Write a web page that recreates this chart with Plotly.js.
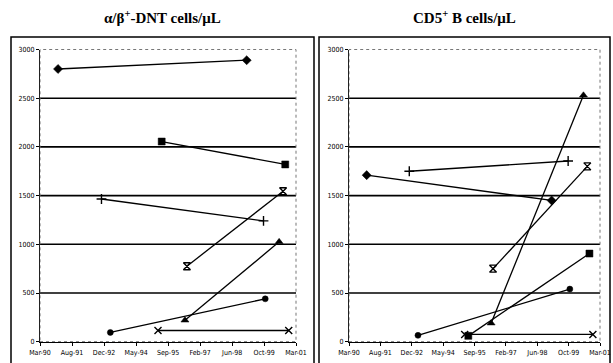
<!DOCTYPE html>
<html>
<head>
<meta charset="utf-8">
<script src="https://cdn.plot.ly/plotly-3.0.1.min.js"></script>
<style>html,body{margin:0;padding:0;background:#fff;}#chart{width:613px;height:363px;}</style>
</head>
<body>
<div id="chart"></div>
<script>
// Patients (marker style per patient) and the two sampling dates
const patientSymbols = ['diamond', 'square', 'cross-thin', 'hourglass-open', 'triangle-up', 'circle', 'x-thin'];
const startDates = ['1990-12-09', '1995-05-24', '1992-10-21', '1996-06-23', '1996-05-23', '1993-03-09', '1995-03-27'];
const endDates   = ['1999-01-17', '2000-09-13', '1999-10-08', '2000-08-10', '2000-06-09', '1999-11-04', '2000-11-07'];

// alpha/beta+ DNT cells/uL : first and second value per patient
const dntStart = [2800, 2055, 1465, 775, 220, 95, 115];
const dntEnd   = [2890, 1820, 1240, 1545, 1025, 440, 115];

// CD5+ B cells/uL : first and second value per patient
const cd5Start = [1710, 60, 1750, 750, 190, 65, 75];
const cd5End   = [1450, 905, 1855, 1800, 2530, 540, 75];

// Axis ticks
const xTickLabels = ['Mar-90', 'Aug-91', 'Dec-92', 'May-94', 'Sep-95', 'Feb-97', 'Jun-98', 'Oct-99', 'Mar-01'];
const xTickDates  = ['1990-03-01', '1991-07-17', '1992-12-01', '1994-04-17', '1995-09-01', '1997-01-16', '1998-06-02', '1999-10-17', '2001-03-01'];
const yTicks = [0, 500, 1000, 1500, 2000, 2500, 3000];
const xRange = ['1990-03-01', '2001-03-01'];

const W = 613, H = 363;
const px = v => v / W;
const py = v => 1 - v / H;

function markerFor(sym) {
  const open = (sym === 'cross-thin' || sym === 'hourglass-open' || sym === 'x-thin');
  return {
    symbol: sym,
    size: open ? 7 : (sym === 'circle' ? 6 : 7),
    color: '#000',
    line: {color: '#000', width: open ? 1.4 : 0.5}
  };
}

const traces = [];
function addPanel(starts, ends, xa, ya) {
  for (let i = 0; i < patientSymbols.length; i++) {
    traces.push({
      type: 'scatter', mode: 'lines+markers',
      x: [startDates[i], endDates[i]],
      y: [starts[i], ends[i]],
      xaxis: xa, yaxis: ya,
      line: {color: '#000', width: 1.3},
      marker: markerFor(patientSymbols[i]),
      showlegend: false, hoverinfo: 'skip'
    });
  }
}
addPanel(dntStart, dntEnd, 'x', 'y');
addPanel(cd5Start, cd5End, 'x2', 'y2');

const tickFont = {family: 'Liberation Sans Narrow, DejaVu Sans Condensed, Arial Narrow, sans-serif', size: 7, color: '#000'};

function xAxis(domain, anchor) {
  return {
    type: 'date', domain: domain, anchor: anchor, range: xRange,
    tickmode: 'array', tickvals: xTickDates, ticktext: xTickLabels,
    ticks: 'outside', ticklen: 3, tickcolor: '#000', tickwidth: 1,
    showgrid: false, zeroline: false,
    showline: true, linecolor: '#000', linewidth: 1.4,
    tickfont: tickFont, fixedrange: true
  };
}
function yAxis(domain, anchor) {
  return {
    domain: domain, anchor: anchor, range: [0, 3000],
    tickmode: 'array', tickvals: yTicks, ticktext: yTicks.map(String),
    ticks: 'outside', ticklen: 3, tickcolor: '#000', tickwidth: 1,
    showgrid: false, zeroline: false,
    showline: true, linecolor: '#222', linewidth: 1,
    tickfont: tickFont, fixedrange: true
  };
}

const yDom = [py(341.7), py(49.5)];
const shapes = [];
[['x', 'y'], ['x2', 'y2']].forEach(([xa, ya]) => {
  yTicks.filter(v => v > 0 && v < 3000).forEach(v => {
    shapes.push({type: 'line', xref: xa + ' domain', yref: ya, x0: 0, x1: 1, y0: v, y1: v,
      line: {color: '#000', width: 1.6}, layer: 'below'});
  });
  shapes.push({type: 'rect', xref: xa + ' domain', yref: ya + ' domain', x0: 0, x1: 1, y0: 0, y1: 1,
    line: {color: '#777', width: 1, dash: 'dot'}, layer: 'below'});
});
// outer panel frames
shapes.push({type: 'rect', xref: 'paper', yref: 'paper', x0: px(11), x1: px(314), y0: -0.05, y1: py(37),
  line: {color: '#000', width: 1.5}});
shapes.push({type: 'rect', xref: 'paper', yref: 'paper', x0: px(319), x1: px(610), y0: -0.05, y1: py(37),
  line: {color: '#000', width: 1.5}});

const titleFont = {family: 'Liberation Serif, Times New Roman, serif', size: 15, color: '#000'};
const annotations = [
  {text: '<b>α/β<sup>+</sup>-DNT cells/μL</b>', xref: 'paper', yref: 'paper', x: px(162), y: py(17),
   xanchor: 'center', yanchor: 'middle', showarrow: false, font: titleFont},
  {text: '<b>CD5<sup>+</sup> B cells/μL</b>', xref: 'paper', yref: 'paper', x: px(464), y: py(17),
   xanchor: 'center', yanchor: 'middle', showarrow: false, font: titleFont}
];

const layout = {
  width: W, height: H,
  margin: {l: 0, r: 0, t: 0, b: 0, pad: 0},
  paper_bgcolor: '#fff', plot_bgcolor: '#fff',
  xaxis: xAxis([px(40), px(296)], 'y'),
  yaxis: yAxis(yDom, 'x'),
  xaxis2: xAxis([px(349), px(600)], 'y2'),
  yaxis2: yAxis(yDom, 'x2'),
  shapes: shapes,
  annotations: annotations,
  showlegend: false
};

Plotly.newPlot('chart', traces, layout, {displayModeBar: false, staticPlot: true});
</script>
</body>
</html>
